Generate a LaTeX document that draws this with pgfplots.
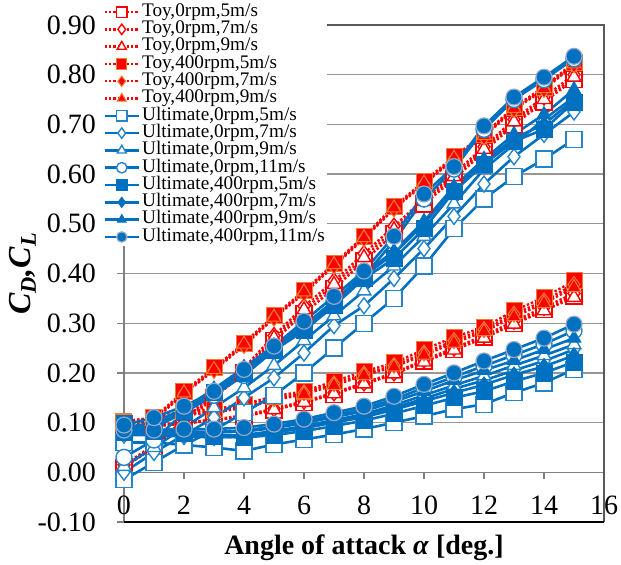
\documentclass[border=0pt]{standalone}
\usepackage{pgfplots}
\pgfplotsset{compat=1.18}
\usepackage{pgfplotstable}
\usepackage{fontspec}
\setmainfont{Liberation Serif}
\definecolor{ublue}{RGB}{0,112,192}
\definecolor{uedge}{RGB}{150,170,200}
\definecolor{redge}{RGB}{237,125,49}
\definecolor{gridgray}{RGB}{150,150,150}

\pgfplotstableread{
x ta tb tc td te tf ua ub uc ud ue uf ug uh
0 0.010 0.015 0.012 0.100 0.095 0.098 -0.015 0.000 0.012 0.030 0.080 0.085 0.090 0.095
1 0.050 0.055 0.052 0.110 0.105 0.108 0.020 0.040 0.050 0.065 0.090 0.095 0.100 0.110
2 0.100 0.105 0.103 0.163 0.158 0.160 0.055 0.075 0.090 0.120 0.120 0.125 0.128 0.133
3 0.150 0.160 0.155 0.210 0.205 0.207 0.085 0.110 0.130 0.155 0.160 0.165 0.168 0.163
4 0.200 0.210 0.205 0.260 0.255 0.258 0.120 0.150 0.170 0.195 0.200 0.205 0.210 0.207
5 0.265 0.275 0.270 0.315 0.310 0.312 0.155 0.190 0.215 0.245 0.245 0.250 0.255 0.254
6 0.320 0.334 0.327 0.365 0.360 0.363 0.200 0.240 0.265 0.295 0.285 0.290 0.295 0.304
7 0.370 0.385 0.378 0.420 0.415 0.418 0.250 0.295 0.315 0.345 0.335 0.340 0.345 0.354
8 0.425 0.440 0.432 0.475 0.470 0.472 0.300 0.335 0.365 0.395 0.390 0.395 0.400 0.405
9 0.480 0.495 0.488 0.535 0.530 0.532 0.350 0.390 0.415 0.465 0.430 0.440 0.445 0.475
10 0.540 0.550 0.545 0.585 0.580 0.582 0.415 0.450 0.475 0.550 0.490 0.500 0.505 0.560
11 0.590 0.600 0.595 0.635 0.630 0.632 0.490 0.515 0.540 0.610 0.565 0.570 0.575 0.615
12 0.645 0.655 0.650 0.680 0.675 0.678 0.550 0.580 0.610 0.690 0.620 0.625 0.630 0.697
13 0.700 0.710 0.705 0.735 0.730 0.732 0.595 0.635 0.660 0.750 0.666 0.672 0.680 0.755
14 0.745 0.755 0.750 0.775 0.770 0.772 0.630 0.680 0.710 0.790 0.690 0.700 0.720 0.795
15 0.790 0.800 0.795 0.825 0.820 0.822 0.670 0.725 0.755 0.832 0.745 0.750 0.770 0.837
}\CL

\pgfplotstableread{
x ta tb tc td te tf ua ub uc ud ue uf ug uh
0 0.090 0.088 0.086 0.103 0.100 0.098 0.060 0.075 0.078 0.080 0.098 0.092 0.090 0.085
1 0.095 0.094 0.092 0.110 0.107 0.105 0.060 0.075 0.077 0.080 0.082 0.083 0.084 0.085
2 0.100 0.100 0.098 0.123 0.118 0.115 0.055 0.072 0.075 0.081 0.078 0.080 0.083 0.087
3 0.105 0.106 0.104 0.127 0.123 0.120 0.050 0.070 0.073 0.081 0.072 0.075 0.080 0.087
4 0.112 0.115 0.113 0.137 0.133 0.130 0.043 0.072 0.075 0.084 0.070 0.074 0.082 0.090
5 0.125 0.128 0.126 0.153 0.148 0.145 0.056 0.080 0.083 0.092 0.075 0.080 0.089 0.097
6 0.140 0.143 0.141 0.163 0.160 0.157 0.066 0.090 0.093 0.102 0.083 0.089 0.099 0.107
7 0.157 0.160 0.158 0.183 0.178 0.175 0.076 0.101 0.105 0.115 0.093 0.100 0.111 0.120
8 0.177 0.180 0.178 0.203 0.198 0.195 0.087 0.113 0.117 0.128 0.104 0.111 0.123 0.133
9 0.197 0.200 0.198 0.220 0.215 0.212 0.100 0.130 0.135 0.147 0.118 0.126 0.142 0.153
10 0.224 0.226 0.222 0.247 0.240 0.236 0.113 0.148 0.155 0.170 0.134 0.143 0.163 0.177
11 0.247 0.250 0.246 0.272 0.265 0.260 0.127 0.168 0.175 0.192 0.150 0.160 0.185 0.200
12 0.272 0.275 0.270 0.292 0.287 0.283 0.137 0.185 0.194 0.214 0.163 0.176 0.205 0.224
13 0.300 0.304 0.298 0.325 0.318 0.313 0.160 0.205 0.215 0.236 0.183 0.196 0.225 0.247
14 0.328 0.332 0.325 0.352 0.345 0.340 0.180 0.224 0.235 0.258 0.200 0.213 0.247 0.270
15 0.355 0.360 0.352 0.385 0.378 0.372 0.207 0.247 0.257 0.285 0.222 0.235 0.270 0.298
}\CD

\pgfplotsset{
  toy/.style={red, densely dotted, line width=1.2pt, mark size=4pt},
  toyopen/.style={toy, mark options={solid, fill=white, draw=red, line width=0.7pt}},
  toyfill/.style={toy, mark options={solid, fill=red, draw=redge, line width=0.5pt}},
  ult/.style={ublue, solid, line width=1.3pt, mark size=4pt},
  ultopen/.style={ult, mark options={solid, fill=white, draw=ublue!85!white, line width=0.7pt}},
  ultfill/.style={ult, mark options={solid, fill=ublue, draw=ublue, line width=0.4pt}},
  ultcirc/.style={ult, mark options={solid, fill=ublue, draw=uedge, line width=0.6pt}},
}

\begin{document}
\begin{tikzpicture}
\begin{axis}[
  scale only axis, width=240pt, height=248.5pt,
  xmin=0, xmax=16, ymin=-0.1, ymax=0.9,
  axis x line=middle, axis y line=left,
  axis line style={-, draw=gray, line width=0.6pt},
  xtick={0,2,...,16},
  ytick={-0.1,0,0.1,0.2,0.3,0.4,0.5,0.6,0.7,0.8,0.9},
  hide obscured x ticks=false, hide obscured y ticks=false,
  tick align=outside, major tick length=3.5pt,
  tick style={gray, line width=0.6pt},
  /pgf/number format/assume math mode=true,
  yticklabel style={/pgf/number format/fixed, /pgf/number format/fixed zerofill, /pgf/number format/precision=2, xshift=-7pt},
  ticklabel style={font=\fontsize{14}{16}\selectfont},
  xticklabel style={yshift=-5pt},
  ymajorgrids, grid style={gridgray, line width=0.6pt},
  clip=false,
  xlabel={\textbf{Angle of attack \textit{α} [deg.]}},
  xlabel style={at={(rel axis cs:0.5,0)}, anchor=north, yshift=-3pt, font=\fontsize{14}{16}\selectfont},
  ylabel={\textbf{\textit{C\textsubscript{D},C\textsubscript{L}}}},
  ylabel style={font=\fontsize{16}{18}\selectfont, yshift=-6pt},
  legend style={at={(rel axis cs:0,1)}, anchor=north west, xshift=-10.5pt, yshift=11pt,
    draw=none, fill=white, font=\fontsize{9.6}{9.6}\selectfont, inner sep=0pt, row sep=0pt,
    nodes={inner xsep=1pt, inner ysep=0pt, text height=6.5pt, text depth=2.15pt}},
  legend cell align=left,
  legend image post style={every mark/.append style={scale=0.65}},
]
\coordinate (bl) at (rel axis cs:0,0);
\coordinate (tr) at (rel axis cs:1,1);
\draw[gray!70!black, line width=0.7pt] (rel axis cs:0,1) -- (rel axis cs:1,1) -- (rel axis cs:1,0);
\draw[black, line width=0.8pt] (rel axis cs:0,0) -- (rel axis cs:1,0);

\addplot[toyopen, mark=square*, forget plot] table[x=x,y=ta]{\CD};
\addplot[toyopen, mark=square*] table[x=x,y=ta]{\CL};
\addlegendentry{Toy,0rpm,5m/s}
\addplot[toyopen, mark=diamond*, forget plot] table[x=x,y=tb]{\CD};
\addplot[toyopen, mark=diamond*] table[x=x,y=tb]{\CL};
\addlegendentry{Toy,0rpm,7m/s}
\addplot[toyopen, mark=triangle*, forget plot] table[x=x,y=tc]{\CD};
\addplot[toyopen, mark=triangle*] table[x=x,y=tc]{\CL};
\addlegendentry{Toy,0rpm,9m/s}
\addplot[toyfill, mark=square*, forget plot] table[x=x,y=td]{\CD};
\addplot[toyfill, mark=square*] table[x=x,y=td]{\CL};
\addlegendentry{Toy,400rpm,5m/s}
\addplot[toyfill, mark=diamond*, forget plot] table[x=x,y=te]{\CD};
\addplot[toyfill, mark=diamond*] table[x=x,y=te]{\CL};
\addlegendentry{Toy,400rpm,7m/s}
\addplot[toyfill, mark=triangle*, forget plot] table[x=x,y=tf]{\CD};
\addplot[toyfill, mark=triangle*] table[x=x,y=tf]{\CL};
\addlegendentry{Toy,400rpm,9m/s}

\addplot[ultopen, mark=square*, forget plot] table[x=x,y=ua]{\CD};
\addplot[ultopen, mark=square*] table[x=x,y=ua]{\CL};
\addlegendentry{Ultimate,0rpm,5m/s}
\addplot[ultopen, mark=diamond*, forget plot] table[x=x,y=ub]{\CD};
\addplot[ultopen, mark=diamond*] table[x=x,y=ub]{\CL};
\addlegendentry{Ultimate,0rpm,7m/s}
\addplot[ultopen, mark=triangle*, forget plot] table[x=x,y=uc]{\CD};
\addplot[ultopen, mark=triangle*] table[x=x,y=uc]{\CL};
\addlegendentry{Ultimate,0rpm,9m/s}
\addplot[ultopen, mark=*, forget plot] table[x=x,y=ud]{\CD};
\addplot[ultopen, mark=*] table[x=x,y=ud]{\CL};
\addlegendentry{Ultimate,0rpm,11m/s}
\addplot[ultfill, mark=square*, forget plot] table[x=x,y=ue]{\CD};
\addplot[ultfill, mark=square*] table[x=x,y=ue]{\CL};
\addlegendentry{Ultimate,400rpm,5m/s}
\addplot[ultfill, mark=diamond*, forget plot] table[x=x,y=uf]{\CD};
\addplot[ultfill, mark=diamond*] table[x=x,y=uf]{\CL};
\addlegendentry{Ultimate,400rpm,7m/s}
\addplot[ultfill, mark=triangle*, forget plot] table[x=x,y=ug]{\CD};
\addplot[ultfill, mark=triangle*] table[x=x,y=ug]{\CL};
\addlegendentry{Ultimate,400rpm,9m/s}
\addplot[ultcirc, mark=*, forget plot] table[x=x,y=uh]{\CD};
\addplot[ultcirc, mark=*] table[x=x,y=uh]{\CL};
\addlegendentry{Ultimate,400rpm,11m/s}
\end{axis}
\path (bl) ++(-62pt,-21pt) coordinate (A);
\path (tr) ++(8.5pt,12.5pt) coordinate (B);
\pgfresetboundingbox
\path[use as bounding box] (A) rectangle (B);
\end{tikzpicture}
\end{document}
